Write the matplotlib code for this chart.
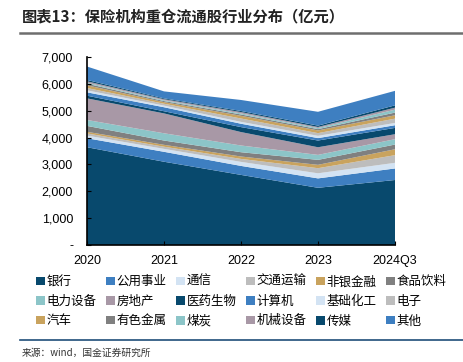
import matplotlib
matplotlib.use("Agg")
import matplotlib.pyplot as plt
from matplotlib.patches import Patch
from matplotlib.lines import Line2D
from matplotlib.ticker import FuncFormatter

plt.rcParams['font.family'] = ['Liberation Sans', 'Noto Sans CJK SC', 'DejaVu Sans']

years = ["2020", "2021", "2022", "2023", "2024Q3"]

industries = ["银行", "公用事业", "通信", "交通运输", "非银金融", "食品饮料",
              "电力设备", "房地产", "医药生物", "计算机", "基础化工", "电子",
              "汽车", "有色金属", "煤炭", "机械设备", "传媒", "其他"]

# 亿元
bank      = [3640, 3100, 2610, 2130, 2420]
utility   = [335, 370, 335, 350, 430]
telecom   = [100, 110, 150, 190, 210]
transport = [80, 80, 110, 190, 285]
nonbank   = [60, 70, 90, 125, 220]
food      = [220, 160, 160, 185, 175]
power_eq  = [220, 270, 250, 185, 200]
estate    = [805, 740, 500, 285, 185]
pharma    = [100, 80, 185, 250, 235]
computer  = [125, 150, 125, 90, 100]
chemical  = [75, 60, 70, 85, 85]
electron  = [85, 70, 125, 100, 160]
auto      = [100, 60, 100, 100, 125]
metals    = [60, 40, 50, 50, 100]
coal      = [40, 30, 40, 40, 110]
machinery = [50, 40, 50, 40, 75]
media     = [50, 30, 40, 50, 85]
others    = [500, 260, 410, 515, 540]

series = [bank, utility, telecom, transport, nonbank, food, power_eq, estate,
          pharma, computer, chemical, electron, auto, metals, coal, machinery,
          media, others]

palette = ['#08496D', '#3E7FC1', '#D3E3F3', '#BDBDBD',
           '#C9A35E', '#808080', '#8CC5C8', '#A898A6']
colors = [palette[i % len(palette)] for i in range(len(series))]

fig = plt.figure(figsize=(4.63, 3.62), dpi=100)
ax = fig.add_axes([87 / 463, 1 - 245 / 362, 308 / 463, 188 / 362])

x = list(range(len(years)))
ax.stackplot(x, series, colors=colors, linewidth=0)

ax.set_xlim(0, len(years) - 1)
ax.set_ylim(0, 7000)
ax.set_xticks(x)
ax.set_xticklabels(years, fontsize=9)
ax.set_yticks(range(0, 7001, 1000))
ax.yaxis.set_major_formatter(FuncFormatter(lambda v, p: "-" if v == 0 else f"{int(v):,}"))
ax.tick_params(axis='both', direction='in', length=3, labelsize=9, colors='black')
ax.tick_params(axis='x', pad=7)
ax.tick_params(axis='y', pad=10)
for s in ['top', 'right']:
    ax.spines[s].set_visible(False)
for s in ['left', 'bottom']:
    ax.spines[s].set_linewidth(1.2)

# legend, row-wise order in 6 columns
handles = [Patch(facecolor=c, edgecolor='none') for c in colors]
order = [r * 6 + c for c in range(6) for r in range(3)]
fig.legend([handles[i] for i in order], [industries[i] for i in order],
           ncol=6, loc='upper left', bbox_to_anchor=(36 / 463, 1 - 276 / 362),
           frameon=False, fontsize=9, handlelength=0.7, handleheight=0.7,
           handletextpad=0.15, columnspacing=0.75, labelspacing=0.6,
           borderaxespad=0, borderpad=0)

# title and rules
fig.text(22 / 463, 1 - 16 / 362, "图表13：保险机构重仓流通股行业分布（亿元）",
         fontsize=11, fontweight='bold', color='#222222', va='center',
         family=['Noto Sans CJK SC', 'DejaVu Sans'])
fig.add_artist(Line2D([20 / 463, 1], [1 - 33 / 362] * 2, color='#6E6E6E', lw=1.8))
fig.add_artist(Line2D([20 / 463, 1], [1 - 340 / 362] * 2, color='#1F4E79', lw=1.2))
fig.text(22 / 463, 1 - 353 / 362, "来源：wind，国金证券研究所", fontsize=7,
         color='#333333', va='center', family=['Noto Sans CJK SC', 'DejaVu Sans'])

fig.savefig("out.png", dpi=100)
